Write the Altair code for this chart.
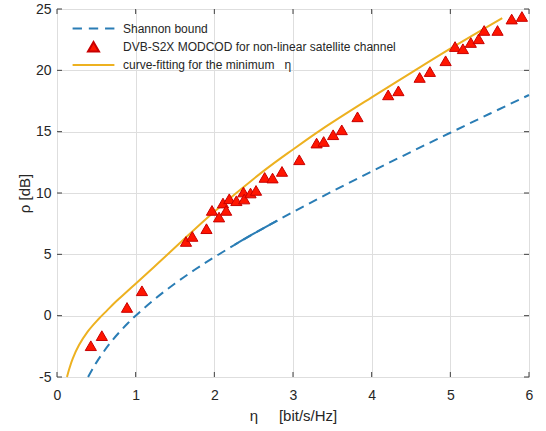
import altair as alt
import pandas as pd

# ---- data ----
shannon_eta = [0.395, 0.45, 0.5, 0.6, 0.7, 0.8, 0.9, 1.0, 1.25, 1.5, 1.75, 2.0, 2.5, 3.0, 3.5, 4.0, 4.5, 5.0, 5.5, 6.0]
shannon_rho = [-5.0, -4.36, -3.83, -2.88, -2.04, -1.30, -0.62, 0.0, 1.39, 2.62, 3.74, 4.77, 6.68, 8.45, 10.13, 11.76, 13.35, 14.91, 16.46, 17.99]

shannon_solid_eta = [2.26, 2.5, 2.8]
shannon_solid_rho = [5.79, 6.68, 7.75]

modcod_eta = [0.43, 0.57, 0.89, 1.08, 1.64, 1.72, 1.90, 1.97, 2.06, 2.11, 2.15, 2.19, 2.28, 2.37, 2.38,
              2.46, 2.53, 2.64, 2.74, 2.86, 3.08, 3.30, 3.39, 3.51, 3.62, 3.82, 4.21, 4.34, 4.61, 4.74,
              4.94, 5.06, 5.16, 5.26, 5.36, 5.43, 5.60, 5.78, 5.91]
modcod_rho = [-2.45, -1.63, 0.67, 2.03, 6.05, 6.46, 7.09, 8.58, 8.04, 9.18, 8.58, 9.53, 9.37, 10.08, 9.51,
              10.0, 10.21, 11.27, 11.22, 11.76, 12.71, 14.07, 14.2, 14.75, 15.15, 16.21, 18.0, 18.33, 19.42, 19.9,
              20.78, 21.94, 21.76, 22.27, 22.57, 23.25, 23.25, 24.18, 24.39]

fit_eta = [0.127, 0.16, 0.2, 0.28, 0.39, 0.52, 0.64, 0.73, 0.81, 1.0, 1.23, 1.5, 1.98, 2.62, 3.0, 3.36, 4.0, 4.5, 5.01, 5.66]
fit_rho = [-5.0, -4.25, -3.5, -2.4, -1.3, -0.33, 0.45, 1.03, 1.5, 2.6, 3.95, 5.55, 8.37, 11.76, 13.55, 15.17, 17.8, 19.8, 21.81, 24.26]

NB = "\u00a0"
series_names = ["Shannon bound",
                "DVB-S2X MODCOD for non-linear satellite channel",
                "curve-fitting for the minimum" + NB * 3 + "η"]

x_ticks = [0, 1, 2, 3, 4, 5, 6]
y_ticks = [-5, 0, 5, 10, 15, 20, 25]

BLUE = "#2a7db5"
YELLOW = "#EDB120"
RED = "#ff1500"
RED_EDGE = "#c80000"
W, H = 472, 368
FONT = "Liberation Sans"
TXT = "#262626"

shannon_df = pd.DataFrame({"eta": shannon_eta, "rho": shannon_rho})
solid_df = pd.DataFrame({"eta": shannon_solid_eta, "rho": shannon_solid_rho})
fit_df = pd.DataFrame({"eta": fit_eta, "rho": fit_rho})
modcod_df = pd.DataFrame({"eta": modcod_eta, "rho": modcod_rho, "series": series_names[1]})
xt_df = pd.DataFrame({"t": x_ticks})
yt_df = pd.DataFrame({"t": y_ticks})

xscale = alt.Scale(domain=[0, 6], nice=False, zero=False)
yscale = alt.Scale(domain=[-5, 25], nice=False, zero=False)

x_axis = alt.Axis(values=x_ticks, grid=True, gridColor="#dedede", domain=False, ticks=False, tickSize=0,
                  labelFontSize=14, labelColor=TXT, labelPadding=11, labelFont=FONT,
                  labelExpr="'' + datum.value",
                  title="η" + NB * 5 + "[bit/s/Hz]", titleFontSize=15, titleFontWeight="normal",
                  titleColor=TXT, titleFont=FONT, titlePadding=6, labelFlush=False)
y_axis = alt.Axis(values=y_ticks, grid=True, gridColor="#dedede", domain=False, ticks=False, tickSize=0,
                  labelFontSize=14, labelColor=TXT, labelPadding=6, labelFont=FONT,
                  labelExpr="'' + datum.value",
                  title="ρ [dB]", titleFontSize=15, titleFontWeight="normal",
                  titleColor=TXT, titleFont=FONT, titlePadding=3, labelFlush=False)

X = alt.X("eta:Q", scale=xscale, axis=x_axis)
Y = alt.Y("rho:Q", scale=yscale, axis=y_axis)

shannon = alt.Chart(shannon_df).mark_line(color=BLUE, strokeWidth=2, strokeDash=[9, 6],
                                          interpolate="catmull-rom").encode(x=X, y=Y)
solid = alt.Chart(solid_df).mark_line(color=BLUE, strokeWidth=2, interpolate="catmull-rom").encode(
    x=alt.X("eta:Q", scale=xscale), y=alt.Y("rho:Q", scale=yscale))
fit = alt.Chart(fit_df).mark_line(color=YELLOW, strokeWidth=2, interpolate="catmull-rom").encode(
    x=alt.X("eta:Q", scale=xscale), y=alt.Y("rho:Q", scale=yscale))

dash_path = "M-3.8,0H-2.1M-0.85,0H0.85M2.1,0H3.8"
line_path = "M-3.8,0H3.8"

legend = alt.Legend(title=None, orient="none", legendX=30, legendY=13, padding=0,
                    labelFontSize=12, labelColor=TXT, labelFont=FONT, labelOffset=23,
                    symbolSize=121, symbolStrokeWidth=2, rowPadding=2.3, labelLimit=400)

points = alt.Chart(modcod_df).mark_point(filled=True, size=125, strokeWidth=1, opacity=1).encode(
    x=alt.X("eta:Q", scale=xscale), y=alt.Y("rho:Q", scale=yscale),
    shape=alt.Shape("series:N", scale=alt.Scale(domain=series_names,
                                                range=[dash_path, "triangle-up", line_path]), legend=legend),
    fill=alt.Fill("series:N", scale=alt.Scale(domain=series_names,
                                              range=["transparent", RED, "transparent"]), legend=legend),
    stroke=alt.Stroke("series:N", scale=alt.Scale(domain=series_names,
                                                  range=[BLUE, RED_EDGE, YELLOW]), legend=legend),
)

TICK = "#404040"
xt_bottom = alt.Chart(xt_df).mark_rule(color=TICK, strokeWidth=1).encode(
    x=alt.X("t:Q", scale=xscale), y=alt.value(H), y2=alt.value(H - 5))
xt_top = alt.Chart(xt_df).mark_rule(color=TICK, strokeWidth=1).encode(
    x=alt.X("t:Q", scale=xscale), y=alt.value(0), y2=alt.value(5))
yt_left = alt.Chart(yt_df).mark_rule(color=TICK, strokeWidth=1).encode(
    y=alt.Y("t:Q", scale=yscale), x=alt.value(0), x2=alt.value(5))
yt_right = alt.Chart(yt_df).mark_rule(color=TICK, strokeWidth=1).encode(
    y=alt.Y("t:Q", scale=yscale), x=alt.value(W), x2=alt.value(W - 5))

chart = alt.layer(shannon, solid, fit, points, xt_bottom, xt_top, yt_left, yt_right).properties(
    width=W, height=H,
    autosize=alt.AutoSizeParams(type="none"),
    padding={"left": 57, "top": 9, "right": 17, "bottom": 54},
).configure_view(stroke="#505050", strokeWidth=1).configure(background="white")

chart.save("out.html", embed_options={"renderer": "svg", "actions": False})
